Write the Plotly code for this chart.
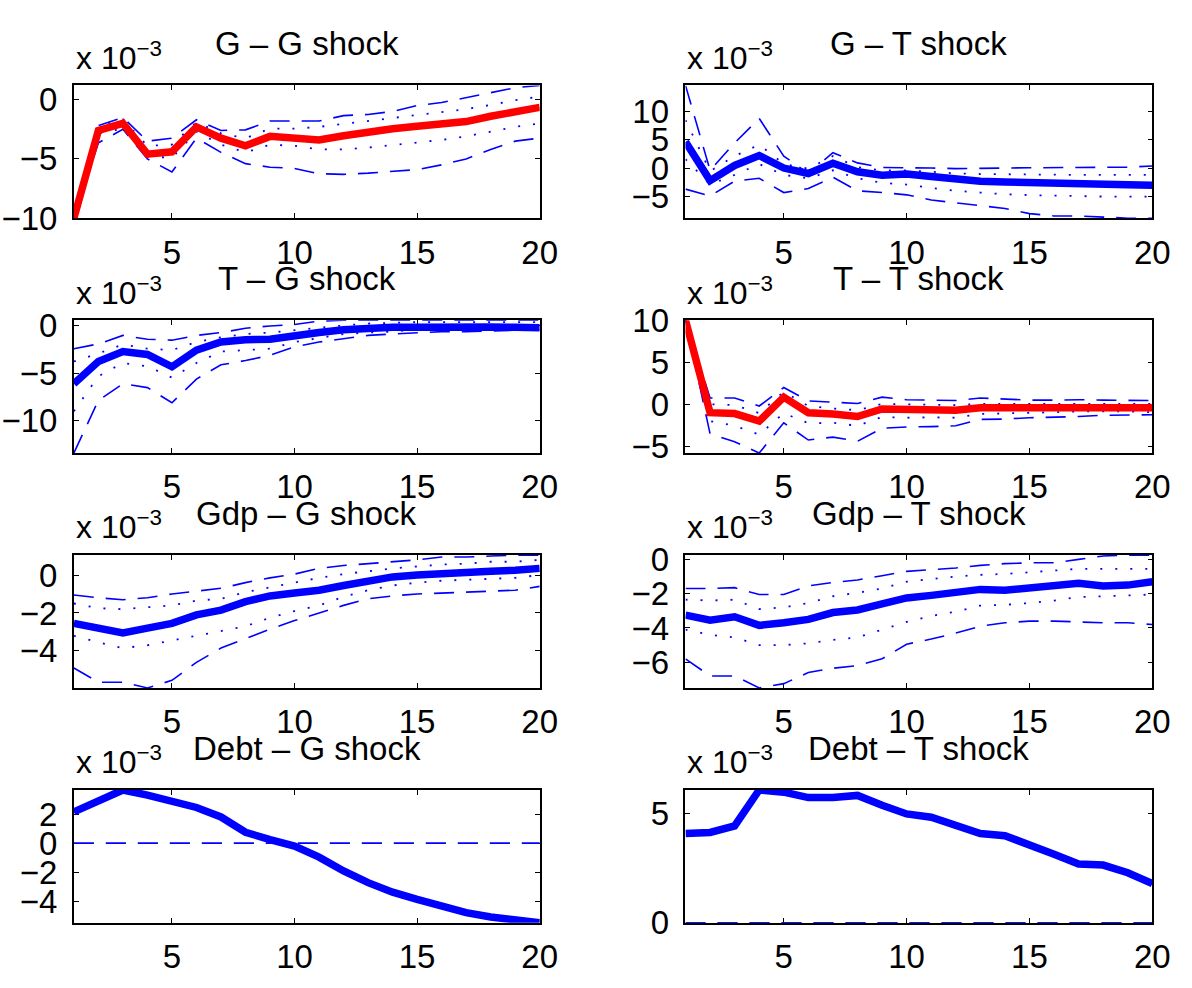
import plotly.graph_objects as go

# ---------------------------------------------------------------
# Impulse responses (units of 1e-3), horizon 1..20
# mid = point estimate, dot = inner band, dash = outer band
# ---------------------------------------------------------------
horizon = list(range(1, 21))

# G response to G shock
gg_mid = [-10.0, -2.6, -2.0, -4.6, -4.4, -2.3, -3.25, -3.9, -3.1, -3.2,
          -3.4, -3.05, -2.7, -2.45, -2.25, -2.1, -1.85, -1.4, -1.0, -0.65]
gg_dot_hi = [-10.0, -2.3, -1.65, -3.9, -3.8, -1.9, -2.85, -3.25, -2.45, -2.45,
             -2.3, -2.05, -1.85, -1.6, -1.3, -1.05, -0.8, -0.45, -0.05, 0.25]
gg_dot_lo = [-10.0, -2.85, -2.45, -4.8, -4.9, -2.7, -3.8, -4.45, -3.8, -3.9,
             -4.2, -4.2, -4.05, -3.85, -3.65, -3.4, -3.1, -2.7, -2.3, -2.0]
gg_dash_hi = [-10.0, -2.2, -1.5, -3.5, -3.25, -1.7, -2.6, -2.55, -1.8, -1.8,
              -1.8, -1.35, -1.25, -1.0, -0.5, -0.25, 0.15, 0.55, 1.0, 1.2]
gg_dash_lo = [-10.0, -3.65, -2.5, -5.0, -6.1, -3.25, -4.45, -5.4, -5.7, -5.8,
              -6.25, -6.3, -6.2, -6.05, -5.9, -5.5, -5.0, -4.2, -3.5, -3.25]

# G response to T shock
gt_mid = [4.6, -2.2, 0.45, 2.2, 0.0, -0.95, 0.85, -0.65, -1.25, -1.05,
          -1.5, -1.95, -2.3, -2.45, -2.6, -2.8, -2.75, -2.9, -2.95, -3.0]
gt_dot_hi = [8.4, -0.55, 2.1, 4.1, 0.7, -0.1, 2.1, 0.15, -0.4, -0.4,
             -0.65, -0.95, -1.05, -1.1, -1.2, -1.2, -1.2, -1.2, -1.2, -1.2]
gt_dot_lo = [1.55, -2.9, -1.2, 0.7, -1.2, -1.8, -0.4, -1.8, -2.6, -2.9,
             -3.5, -4.0, -4.3, -4.6, -4.75, -4.85, -4.9, -5.0, -5.0, -5.0]
gt_dash_hi = [14.5, -0.4, 4.4, 8.7, 2.1, -0.95, 2.7, 0.9, 0.1, 0.1,
              0.0, -0.1, -0.1, 0.0, 0.05, 0.05, 0.05, 0.05, 0.15, 0.35]
gt_dash_lo = [-3.7, -4.9, -2.3, -1.8, -4.3, -3.6, -1.6, -4.0, -4.3, -4.7,
              -5.6, -6.1, -6.5, -7.1, -8.0, -8.4, -8.4, -8.6, -8.8, -8.8]

# T response to G shock
tg_mid = [-6.1, -3.75, -2.7, -3.0, -4.3, -2.55, -1.7, -1.45, -1.4, -1.0,
          -0.7, -0.4, -0.25, -0.15, -0.15, -0.1, -0.1, -0.1, -0.15, -0.2]
tg_dot_hi = [-3.75, -2.9, -1.95, -2.4, -2.55, -1.7, -1.2, -0.85, -0.7, -0.45,
             -0.15, 0.05, 0.25, 0.35, 0.4, 0.4, 0.4, 0.4, 0.4, 0.4]
tg_dot_lo = [-9.0, -5.3, -3.9, -4.25, -5.45, -3.9, -2.7, -2.55, -2.4, -1.7,
             -1.25, -0.85, -0.7, -0.6, -0.35, -0.25, -0.25, -0.25, -0.25, -0.25]
tg_dash_hi = [-2.4, -1.9, -1.0, -1.4, -1.5, -1.0, -0.7, -0.25, 0.0, 0.15,
              0.5, 0.6, 0.6, 0.6, 0.6, 0.6, 0.6, 0.6, 0.6, 0.6]
tg_dash_lo = [-13.4, -7.85, -6.1, -6.5, -8.1, -5.6, -4.1, -3.65, -3.1, -2.2,
              -1.7, -1.35, -1.0, -0.85, -0.75, -0.6, -0.6, -0.5, -0.45, -0.4]

# T response to T shock
tt_mid = [10.0, -1.0, -1.1, -2.0, 0.85, -1.0, -1.15, -1.45, -0.55, -0.6,
          -0.65, -0.7, -0.4, -0.4, -0.4, -0.4, -0.3, -0.3, -0.35, -0.4]
tt_dot_hi = [10.0, 0.0, -0.1, -1.05, 1.5, -0.2, -0.5, -0.7, 0.05, 0.0,
             0.0, -0.1, 0.05, 0.05, 0.05, 0.05, 0.05, 0.05, 0.05, 0.05]
tt_dot_lo = [10.0, -2.0, -2.55, -3.6, -1.05, -2.25, -2.2, -2.55, -1.5, -1.6,
             -1.55, -1.6, -1.15, -1.05, -1.0, -0.95, -0.85, -0.85, -0.85, -0.95]
tt_dash_hi = [10.0, 0.75, 0.75, -0.2, 2.0, 0.4, 0.25, 0.1, 0.85, 0.55,
              0.5, 0.45, 0.75, 0.6, 0.5, 0.5, 0.55, 0.5, 0.45, 0.45]
tt_dash_lo = [10.0, -3.5, -4.45, -5.8, -2.2, -4.25, -3.9, -4.4, -2.85, -2.7,
              -2.65, -2.55, -1.8, -1.75, -1.6, -1.55, -1.45, -1.3, -1.3, -1.25]

# Gdp response to G shock
yg_mid = [-2.55, -2.8, -3.05, -2.8, -2.55, -2.1, -1.85, -1.4, -1.1, -0.95,
          -0.8, -0.55, -0.3, -0.1, 0.0, 0.1, 0.15, 0.2, 0.25, 0.35]
yg_dot_hi = [-1.5, -1.75, -1.8, -1.7, -1.6, -1.35, -1.25, -0.9, -0.65, -0.4,
             -0.15, 0.05, 0.2, 0.35, 0.45, 0.55, 0.6, 0.7, 0.7, 0.8]
yg_dot_lo = [-3.2, -3.55, -3.85, -3.7, -3.45, -3.2, -2.95, -2.7, -2.25, -1.9,
             -1.6, -1.15, -0.8, -0.55, -0.4, -0.3, -0.25, -0.2, -0.15, 0.0]
yg_dash_hi = [-1.05, -1.2, -1.3, -1.2, -1.0, -0.85, -0.7, -0.4, -0.15, 0.05,
              0.35, 0.5, 0.6, 0.7, 0.8, 0.95, 0.95, 1.0, 1.05, 1.05]
yg_dash_lo = [-4.9, -5.65, -5.65, -5.95, -5.55, -4.6, -3.85, -3.35, -2.85, -2.4,
              -2.0, -1.6, -1.25, -1.1, -1.0, -0.95, -0.9, -0.85, -0.8, -0.6]

# Gdp response to T shock
yt_mid = [-3.25, -3.55, -3.35, -3.85, -3.7, -3.5, -3.1, -2.95, -2.6, -2.25,
          -2.1, -1.95, -1.75, -1.8, -1.7, -1.55, -1.4, -1.55, -1.5, -1.3]
yt_dot_hi = [-2.35, -2.4, -2.35, -2.9, -2.8, -2.55, -2.15, -1.95, -1.7, -1.3,
             -1.15, -1.0, -0.9, -0.85, -0.75, -0.65, -0.55, -0.55, -0.55, -0.55]
yt_dot_lo = [-4.1, -4.4, -4.55, -5.0, -5.0, -4.9, -4.7, -4.55, -4.1, -3.65,
             -3.3, -3.05, -2.7, -2.65, -2.55, -2.4, -2.2, -2.15, -2.1, -2.05]
yt_dash_hi = [-1.7, -1.7, -1.65, -2.05, -2.05, -1.55, -1.35, -1.2, -0.95, -0.7,
              -0.6, -0.5, -0.35, -0.25, -0.2, -0.2, 0.0, 0.2, 0.25, 0.25]
yt_dash_lo = [-5.8, -6.8, -6.8, -7.5, -7.25, -6.6, -6.35, -6.2, -5.8, -4.95,
              -4.65, -4.3, -3.9, -3.7, -3.6, -3.6, -3.65, -3.7, -3.7, -3.8]

# Debt response to G shock (bands collapse to zero)
dg_mid = [2.15, 2.85, 3.65, 3.3, 2.9, 2.45, 1.8, 0.75, 0.25, -0.2,
          -0.95, -1.9, -2.7, -3.35, -3.85, -4.35, -4.75, -5.05, -5.25, -5.45]
dg_band = [0.0] * 20

# Debt response to T shock (bands collapse to zero)
dt_mid = [4.1, 4.15, 4.45, 6.1, 6.0, 5.75, 5.75, 5.85, 5.4, 5.0,
          4.85, 4.45, 4.1, 4.0, 3.6, 3.15, 2.7, 2.65, 2.3, 1.8]
dt_band = [0.0] * 20

x_ticks = [5, 10, 15, 20]

RED = "rgb(255,0,0)"
BLUE = "rgb(0,0,255)"

panels = [
    dict(title="G \u2013 G shock", mid=gg_mid, dot=(gg_dot_lo, gg_dot_hi),
         dash=(gg_dash_lo, gg_dash_hi), color=RED, dtick=5),
    dict(title="G \u2013 T shock", mid=gt_mid, dot=(gt_dot_lo, gt_dot_hi),
         dash=(gt_dash_lo, gt_dash_hi), color=BLUE, dtick=5),
    dict(title="T \u2013 G shock", mid=tg_mid, dot=(tg_dot_lo, tg_dot_hi),
         dash=(tg_dash_lo, tg_dash_hi), color=BLUE, dtick=5),
    dict(title="T \u2013 T shock", mid=tt_mid, dot=(tt_dot_lo, tt_dot_hi),
         dash=(tt_dash_lo, tt_dash_hi), color=RED, dtick=5),
    dict(title="Gdp \u2013 G shock", mid=yg_mid, dot=(yg_dot_lo, yg_dot_hi),
         dash=(yg_dash_lo, yg_dash_hi), color=BLUE, dtick=2),
    dict(title="Gdp \u2013 T shock", mid=yt_mid, dot=(yt_dot_lo, yt_dot_hi),
         dash=(yt_dash_lo, yt_dash_hi), color=BLUE, dtick=2),
    dict(title="Debt \u2013 G shock", mid=dg_mid, dot=None,
         dash=(dg_band, dg_band), color=BLUE, dtick=2),
    dict(title="Debt \u2013 T shock", mid=dt_mid, dot=None,
         dash=(dt_band, dt_band), color=BLUE, dtick=5),
]

# ---------------------------------------------------------------
# Page geometry (pixels)
# ---------------------------------------------------------------
W, H = 1192, 988
COLS = [(75, 548), (696, 1170)]
TOP0, STEP, BOX_H = 70, 244, 138
FONT = "Liberation Sans, Arial, Helvetica, sans-serif"
FS = 33

fig = go.Figure()
layout = dict(
    width=W, height=H, autosize=False,
    margin=dict(l=0, r=0, t=0, b=0),
    paper_bgcolor="white", plot_bgcolor="white",
    showlegend=False,
    font=dict(family=FONT, size=FS, color="black"),
)
annotations = []

axis_style = dict(
    showline=True, linecolor="black", linewidth=1.6, mirror="ticks",
    ticks="inside", ticklen=5, tickwidth=1.2, tickcolor="black",
    showgrid=False, zeroline=False, layer="below traces",
    tickfont=dict(family=FONT, size=FS, color="black"),
)

for i, p in enumerate(panels):
    row, col = divmod(i, 2)
    n = "" if i == 0 else str(i + 1)
    x0, x1 = COLS[col]
    top = TOP0 + STEP * row
    bot = top + BOX_H
    xa, ya = "x" + n, "y" + n

    series = [p["mid"]] + list(p["dash"]) + (list(p["dot"]) if p["dot"] else [])
    lo = min(min(s) for s in series)
    hi = max(max(s) for s in series)

    for band in p["dash"]:
        fig.add_trace(go.Scatter(x=horizon, y=band, mode="lines", xaxis=xa, yaxis=ya,
                                 line=dict(color=BLUE, width=1.6, dash="20px,12px"),
                                 hoverinfo="skip"))
    if p["dot"]:
        for band in p["dot"]:
            fig.add_trace(go.Scatter(x=horizon, y=band, mode="lines", xaxis=xa, yaxis=ya,
                                     line=dict(color=BLUE, width=1.8, dash="2px,13px"),
                                     hoverinfo="skip"))
    fig.add_trace(go.Scatter(x=horizon, y=p["mid"], mode="lines", xaxis=xa, yaxis=ya,
                             line=dict(color=p["color"], width=7.5),
                             hoverinfo="skip"))

    layout["xaxis" + n] = dict(axis_style, domain=[x0 / W, x1 / W], range=[1, 20],
                               tickvals=x_ticks, anchor=ya, ticklabelstandoff=4)
    layout["yaxis" + n] = dict(axis_style, domain=[1 - bot / H, 1 - top / H],
                               range=[lo, hi], tick0=0, dtick=p["dtick"], anchor=xa,
                               ticklabelstandoff=8)

    annotations.append(dict(text=p["title"], x=(x0 + x1) / 2 / W, y=1 - (top - 43) / H,
                            xref="paper", yref="paper", xanchor="center", yanchor="middle",
                            showarrow=False, font=dict(family=FONT, size=FS, color="black")))
    annotations.append(dict(text="x 10<sup>\u22123</sup>", x=x0 / W, y=1 - (top - 8) / H,
                            xref="paper", yref="paper", xanchor="left", yanchor="bottom",
                            showarrow=False, font=dict(family=FONT, size=FS - 1, color="black")))

layout["annotations"] = annotations
fig.update_layout(**layout)
fig.write_html("out.html")
